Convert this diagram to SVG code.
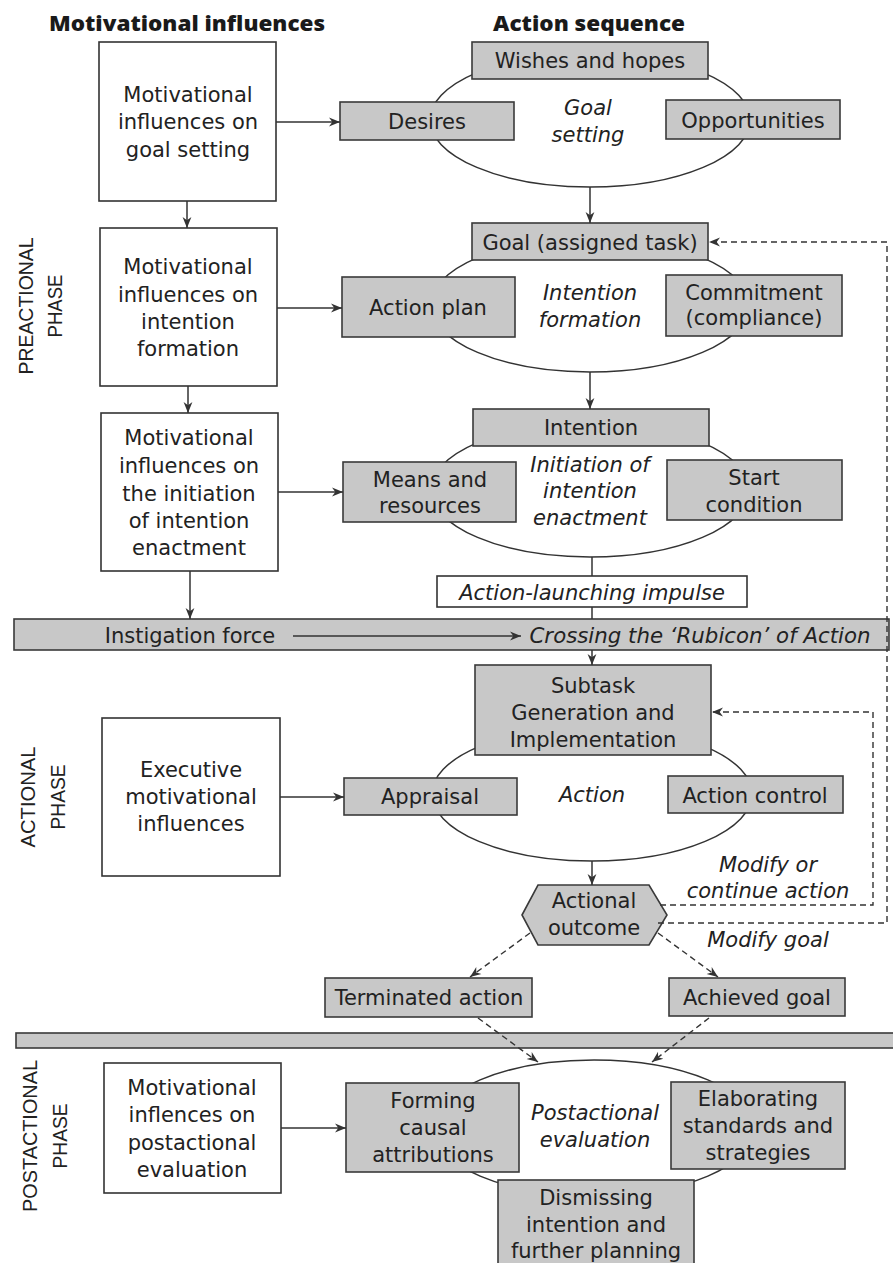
<svg xmlns="http://www.w3.org/2000/svg" width="893" height="1263" viewBox="0 0 893 1263">
<style>
.bg{fill:#ffffff}
.wb{fill:#ffffff;stroke:#333;stroke-width:1.6}
.gb{fill:#c8c8c8;stroke:#3a3a3a;stroke-width:1.6}
.el{fill:#ffffff;stroke:#333;stroke-width:1.5}
.t{font-family:"DejaVu Sans","Open Sans",sans-serif;font-size:21px;fill:#222;text-anchor:middle}
.i{font-family:"DejaVu Sans","Open Sans",sans-serif;font-size:21px;font-style:italic;fill:#222;text-anchor:middle}
.h{font-family:"Open Sans","Liberation Sans",sans-serif;font-size:21px;font-weight:800;fill:#1a1a1a}
.p{font-family:"Liberation Sans","Arial",sans-serif;font-size:21px;fill:#222;text-anchor:middle}
.c{fill:none;stroke:#333;stroke-width:1.5}
.d{fill:none;stroke:#333;stroke-width:1.4;stroke-dasharray:6 4}
</style>
<defs>
<marker id="ah" viewBox="0 0 10 10" refX="10" refY="5" markerWidth="11" markerHeight="11" markerUnits="userSpaceOnUse" orient="auto">
<path d="M0,1 L10,5 L0,9 L3,5 z" fill="#333"/>
</marker>
</defs>
<rect class="bg" x="0" y="0" width="893" height="1263"/>

<g id="headers">
<text class="h" x="49" y="31" textLength="276" lengthAdjust="spacingAndGlyphs">Motivational influences</text>
<text class="h" x="493" y="31" textLength="192" lengthAdjust="spacingAndGlyphs">Action sequence</text>
</g>

<g id="phase-labels">
<text class="p" transform="translate(33,306) rotate(-90)" textLength="137" lengthAdjust="spacingAndGlyphs">PREACTIONAL</text>
<text class="p" transform="translate(62,306) rotate(-90)" textLength="63" lengthAdjust="spacingAndGlyphs">PHASE</text>
<text class="p" transform="translate(35,797) rotate(-90)" textLength="101" lengthAdjust="spacingAndGlyphs">ACTIONAL</text>
<text class="p" transform="translate(65,797) rotate(-90)" textLength="65" lengthAdjust="spacingAndGlyphs">PHASE</text>
<text class="p" transform="translate(37,1136) rotate(-90)" textLength="152" lengthAdjust="spacingAndGlyphs">POSTACTIONAL</text>
<text class="p" transform="translate(67,1136) rotate(-90)" textLength="65" lengthAdjust="spacingAndGlyphs">PHASE</text>
</g>

<g id="bars">
<rect class="gb" x="14" y="619" width="875" height="31"/>
<rect class="gb" x="16" y="1033" width="880" height="15"/>
</g>

<g id="goal-setting">
<ellipse class="el" cx="590" cy="120" rx="160" ry="67"/>
<text class="i" x="588" y="115">Goal</text>
<text class="i" x="588" y="142">setting</text>
</g>
<g id="intention-formation">
<ellipse class="el" cx="590" cy="305" rx="159" ry="67"/>
<text class="i" x="590" y="300">Intention</text>
<text class="i" x="590" y="327">formation</text>
</g>
<g id="initiation">
<ellipse class="el" cx="590" cy="490" rx="159" ry="67"/>
<text class="i" x="590" y="472">Initiation of</text>
<text class="i" x="590" y="498">intention</text>
<text class="i" x="590" y="525">enactment</text>
</g>
<g id="action">
<ellipse class="el" cx="592" cy="794" rx="160" ry="67"/>
<text class="i" x="592" y="802">Action</text>
</g>
<g id="postactional-evaluation">
<ellipse class="el" cx="594" cy="1128" rx="161" ry="68"/>
<text class="i" x="595" y="1120">Postactional</text>
<text class="i" x="595" y="1147">evaluation</text>
</g>

<g id="mi-goal-setting">
<rect class="wb" x="99" y="42" width="177" height="159"/>
<text class="t" x="188" y="102">Motivational</text>
<text class="t" x="188" y="129">influences on</text>
<text class="t" x="188" y="157">goal setting</text>
</g>
<g id="mi-intention-formation">
<rect class="wb" x="100" y="228" width="177" height="158"/>
<text class="t" x="188" y="274">Motivational</text>
<text class="t" x="188" y="302">influences on</text>
<text class="t" x="188" y="329">intention</text>
<text class="t" x="188" y="356">formation</text>
</g>
<g id="mi-initiation">
<rect class="wb" x="101" y="413" width="177" height="158"/>
<text class="t" x="189" y="445">Motivational</text>
<text class="t" x="189" y="473">influences on</text>
<text class="t" x="189" y="501">the initiation</text>
<text class="t" x="189" y="528">of intention</text>
<text class="t" x="189" y="555">enactment</text>
</g>
<g id="mi-executive">
<rect class="wb" x="102" y="718" width="178" height="158"/>
<text class="t" x="191" y="777">Executive</text>
<text class="t" x="191" y="804">motivational</text>
<text class="t" x="191" y="831">influences</text>
</g>
<g id="mi-postactional">
<rect class="wb" x="104" y="1063" width="177" height="130"/>
<text class="t" x="192" y="1095">Motivational</text>
<text class="t" x="192" y="1122">inflences on</text>
<text class="t" x="192" y="1150">postactional</text>
<text class="t" x="192" y="1177">evaluation</text>
</g>

<g id="wishes"><rect class="gb" x="472" y="42" width="236" height="37"/><text class="t" x="590" y="68">Wishes and hopes</text></g>
<g id="desires"><rect class="gb" x="340" y="102" width="174" height="38"/><text class="t" x="427" y="129">Desires</text></g>
<g id="opportunities"><rect class="gb" x="666" y="100" width="174" height="39"/><text class="t" x="753" y="128">Opportunities</text></g>
<g id="goal"><rect class="gb" x="472" y="223" width="236" height="37"/><text class="t" x="590" y="250">Goal (assigned task)</text></g>
<g id="action-plan"><rect class="gb" x="342" y="277" width="173" height="60"/><text class="t" x="428" y="315">Action plan</text></g>
<g id="commitment"><rect class="gb" x="666" y="275" width="176" height="61"/><text class="t" x="754" y="300">Commitment</text><text class="t" x="754" y="325">(compliance)</text></g>
<g id="intention"><rect class="gb" x="473" y="409" width="236" height="37"/><text class="t" x="591" y="435">Intention</text></g>
<g id="means"><rect class="gb" x="343" y="462" width="173" height="60"/><text class="t" x="430" y="487">Means and</text><text class="t" x="430" y="513">resources</text></g>
<g id="start"><rect class="gb" x="667" y="460" width="175" height="60"/><text class="t" x="754" y="485">Start</text><text class="t" x="754" y="512">condition</text></g>
<g id="impulse"><rect class="wb" x="437" y="576" width="310" height="31"/><text class="i" x="592" y="600">Action-launching impulse</text></g>
<g id="rubicon">
<text class="t" x="190" y="643">Instigation force</text>
<text class="i" x="700" y="643" textLength="341" lengthAdjust="spacingAndGlyphs">Crossing the ‘Rubicon’ of Action</text>
</g>
<g id="subtask"><rect class="gb" x="475" y="665" width="236" height="90"/><text class="t" x="593" y="693">Subtask</text><text class="t" x="593" y="720">Generation and</text><text class="t" x="593" y="747">Implementation</text></g>
<g id="appraisal"><rect class="gb" x="344" y="778" width="173" height="37"/><text class="t" x="430" y="804">Appraisal</text></g>
<g id="action-control"><rect class="gb" x="668" y="776" width="175" height="37"/><text class="t" x="755" y="803">Action control</text></g>
<g id="outcome"><polygon class="gb" points="522,915 538,885 649,885 667,915 649,945 538,945"/><text class="t" x="594" y="908">Actional</text><text class="t" x="594" y="935">outcome</text></g>
<g id="loop-labels">
<text class="i" x="768" y="872">Modify or</text>
<text class="i" x="768" y="898">continue action</text>
<text class="i" x="768" y="947">Modify goal</text>
</g>
<g id="terminated"><rect class="gb" x="325" y="978" width="207" height="39"/><text class="t" x="429" y="1005">Terminated action</text></g>
<g id="achieved"><rect class="gb" x="669" y="978" width="176" height="38"/><text class="t" x="757" y="1005">Achieved goal</text></g>
<g id="forming"><rect class="gb" x="346" y="1083" width="173" height="89"/><text class="t" x="433" y="1108">Forming</text><text class="t" x="433" y="1135">causal</text><text class="t" x="433" y="1162">attributions</text></g>
<g id="elaborating"><rect class="gb" x="671" y="1082" width="174" height="87"/><text class="t" x="758" y="1106">Elaborating</text><text class="t" x="758" y="1133">standards and</text><text class="t" x="758" y="1160">strategies</text></g>
<g id="dismissing"><rect class="gb" x="498" y="1180" width="196" height="95"/><text class="t" x="596" y="1205">Dismissing</text><text class="t" x="596" y="1232">intention and</text><text class="t" x="596" y="1258">further planning</text></g>

<g id="connectors">
<line class="c" x1="276" y1="122" x2="340" y2="122" marker-end="url(#ah)"/>
<line class="c" x1="277" y1="308" x2="342" y2="308" marker-end="url(#ah)"/>
<line class="c" x1="278" y1="492" x2="343" y2="492" marker-end="url(#ah)"/>
<line class="c" x1="280" y1="797" x2="344" y2="797" marker-end="url(#ah)"/>
<line class="c" x1="281" y1="1128" x2="346" y2="1128" marker-end="url(#ah)"/>
<line class="c" x1="187" y1="201" x2="187" y2="228" marker-end="url(#ah)"/>
<line class="c" x1="188" y1="386" x2="188" y2="413" marker-end="url(#ah)"/>
<line class="c" x1="190" y1="571" x2="190" y2="619" marker-end="url(#ah)"/>
<line class="c" x1="590" y1="187" x2="590" y2="223" marker-end="url(#ah)"/>
<line class="c" x1="590" y1="372" x2="590" y2="409" marker-end="url(#ah)"/>
<line class="c" x1="592" y1="557" x2="592" y2="576"/>
<line class="c" x1="592" y1="607" x2="592" y2="619"/>
<line class="c" x1="592" y1="650" x2="592" y2="665" marker-end="url(#ah)"/>
<line class="c" x1="293" y1="636" x2="521" y2="636" marker-end="url(#ah)"/>
<line class="c" x1="592" y1="861" x2="592" y2="885" marker-end="url(#ah)"/>
<polyline class="d" points="660,905 873,905 873,712 712,712" marker-end="url(#ah)"/>
<polyline class="d" points="658,923 887,923 887,242 709,242" marker-end="url(#ah)"/>
<line class="d" x1="530" y1="933" x2="470" y2="977" marker-end="url(#ah)"/>
<line class="d" x1="658" y1="933" x2="718" y2="977" marker-end="url(#ah)"/>
<line class="d" x1="478" y1="1018" x2="538" y2="1062" marker-end="url(#ah)"/>
<line class="d" x1="709" y1="1018" x2="652" y2="1062" marker-end="url(#ah)"/>
</g>
</svg>
